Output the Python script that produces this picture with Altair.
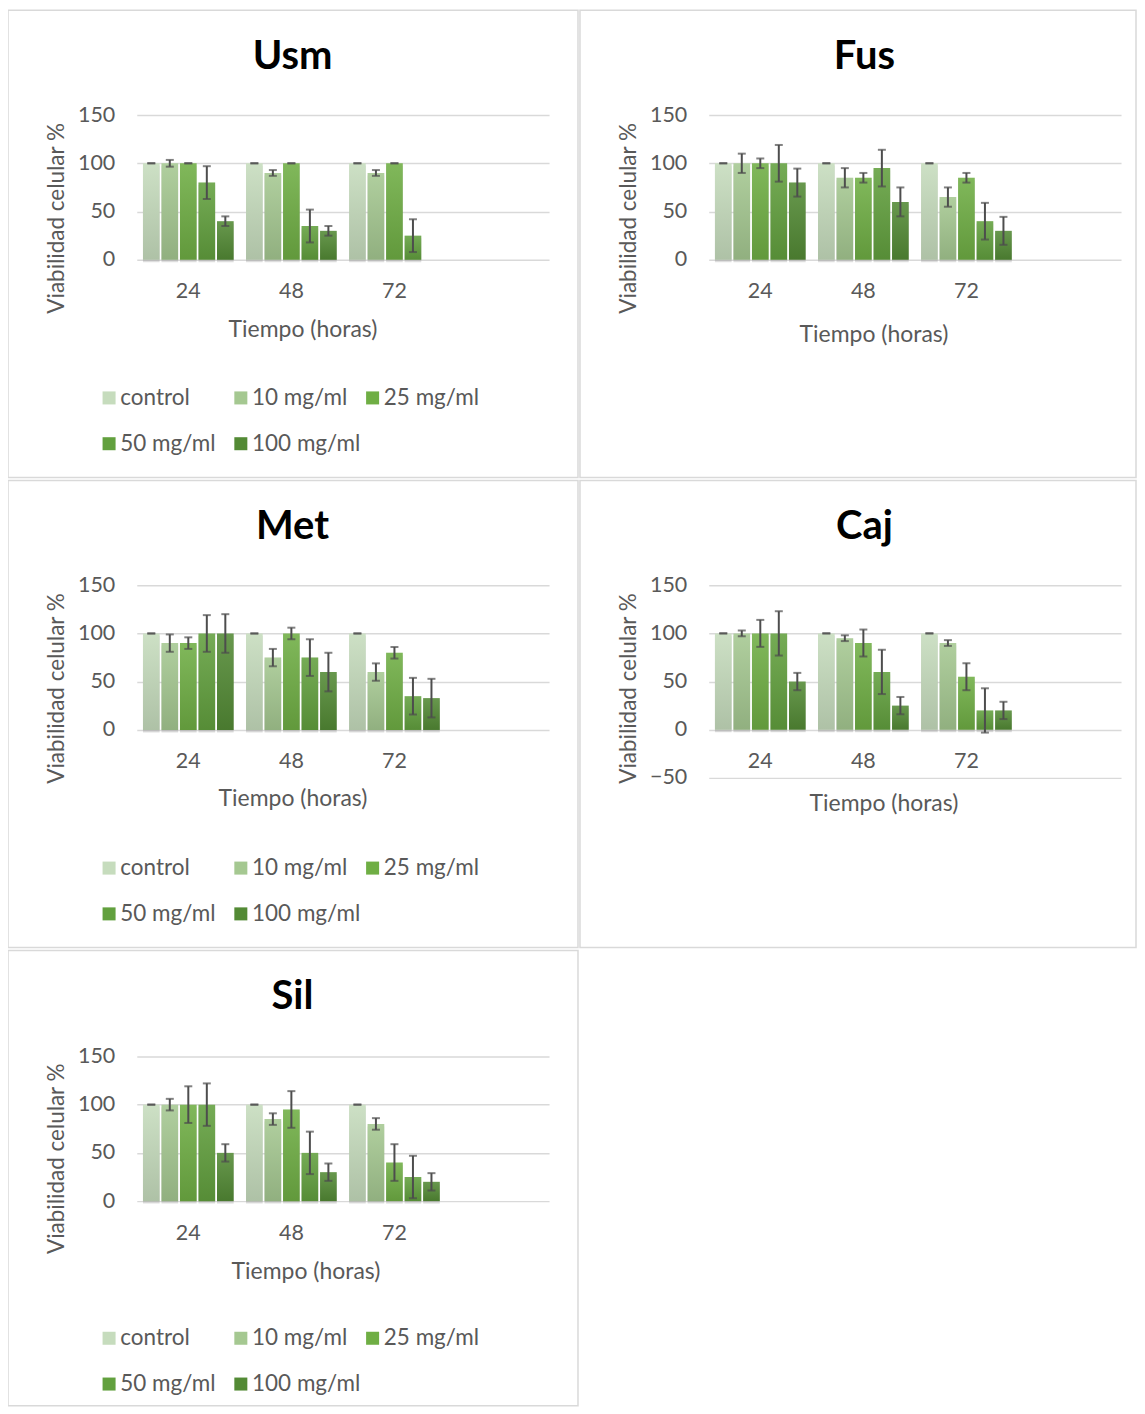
import altair as alt
import pandas as pd

FONT = "Lato"
concs = ["control", "10 mg/ml", "25 mg/ml", "50 mg/ml", "100 mg/ml"]
times = ["24", "48", "72"]
x_domain = ["24", "48", "72", ""]
colors = ["#c6dcbd", "#a5c891", "#6fae44", "#62a03e", "#538a35"]

# values listed time-major: 24h (5 conc), 48h (5 conc), 72h (5 conc)
usm_mean = [100, 100, 100, 80, 40, 100, 90, 100, 35, 30, 100, 90, 100, 25, None]
usm_err = [0, 3.5, 0, 17, 5, 0, 3, 0, 17, 5, 0, 3, 0, 17, None]
fus_mean = [100, 100, 100, 100, 80, 100, 85, 85, 95, 60, 100, 65, 85, 40, 30]
fus_err = [0, 10, 5, 19, 14.5, 0, 10, 5, 19, 15, 0, 10, 5, 19, 14.5]
met_mean = [100, 90, 90, 100, 100, 100, 75, 100, 75, 60, 100, 60, 80, 35, 33]
met_err = [0, 9, 6, 19, 20, 0, 9, 6, 19, 20, 0, 9, 6, 19, 20]
caj_mean = [100, 100, 100, 100, 50, 100, 95, 90, 60, 25, 100, 90, 55, 20, 20]
caj_err = [0, 3, 14, 23, 9, 0, 3, 14, 23, 9, 0, 3, 14, 23, 9]
sil_mean = [100, 100, 100, 100, 50, 100, 85, 95, 50, 30, 100, 80, 40, 25, 20]
sil_err = [0, 6, 19, 22, 9, 0, 6, 19, 22, 9, 0, 6, 19, 22, 9]

GRAY = "#595959"
ERR = "#4d4d4d"


def make_df(mean, err):
    rows = []
    i = 0
    for t in times:
        for c in concs:
            m, e = mean[i], err[i]
            i += 1
            if m is None:
                continue
            rows.append({"time": t, "conc": c, "mean": m, "lo": m - e, "hi": m + e})
    return pd.DataFrame(rows)


def panel(name, mean, err, ydom, yticks, yrange, zero_px, xtitle, w=571, h=468):
    df = make_df(mean, err)
    base = alt.Chart(df)
    xenc = alt.X(
        "time:N",
        scale=alt.Scale(domain=x_domain, range=[129, 542], paddingInner=0.12, paddingOuter=0.06),
        axis=alt.Axis(
            title="Tiempo (horas)", titleFont=FONT, titleFontSize=23, titleFontWeight="normal",
            titleColor=GRAY, titleX=xtitle[0], titleY=xtitle[1], titleBaseline="middle",
            labelFont=FONT, labelFontSize=21.5, labelColor=GRAY, labelAngle=0, labelPadding=21,
            ticks=False, domain=False, grid=False, offset=-(h - zero_px),
        ),
    )
    xo = alt.XOffset("conc:N", scale=alt.Scale(domain=concs, paddingInner=0.1, paddingOuter=0))

    def yenc(field):
        return alt.Y(
            field,
            scale=alt.Scale(domain=ydom, range=yrange, nice=False, zero=False),
            axis=alt.Axis(
                title="Viabilidad celular %", titleFont=FONT, titleFontSize=22.5,
                titleFontWeight="normal", titleColor=GRAY, titleX=49 - 129, titleY=208,
                titleBaseline="middle", titleAngle=-90,
                values=yticks, labelFont=FONT, labelFontSize=21.5, labelColor=GRAY,
                labelPadding=22, ticks=False, domain=False, grid=True,
                gridColor="#d9d9d9", gridWidth=1.5, offset=-129,
            ),
        )

    shadow = base.mark_bar(color="#000000", opacity=0.13, xOffset=2.5, yOffset=2.5).encode(
        x=xenc, xOffset=xo, y=yenc("mean:Q")
    )
    bars = base.mark_bar().encode(
        x=xenc, xOffset=xo, y=yenc("mean:Q"),
        color=alt.Color(
            "conc:N", scale=alt.Scale(domain=concs, range=colors),
            legend=alt.Legend(
                orient="none", legendX=90, legendY=377, direction="horizontal", columns=3,
                title=None, labelFont=FONT, labelFontSize=22.5, labelColor=GRAY,
                symbolType="square", symbolSize=170, symbolStrokeWidth=0,
                rowPadding=23, columnPadding=1, gridAlign="all", labelOffset=0,
            ),
        ),
    )
    shade = base.mark_bar(
        color={
            "gradient": "linear", "x1": 0, "x2": 0, "y1": 0, "y2": 1,
            "stops": [
                {"offset": 0, "color": "rgba(255,255,255,0.12)"},
                {"offset": 1, "color": "rgba(0,0,0,0.12)"},
            ],
        }
    ).encode(x=xenc, xOffset=xo, y=yenc("mean:Q"))
    rule = base.mark_rule(color=ERR, strokeWidth=2).encode(
        x=xenc, xOffset=xo, y=yenc("lo:Q"), y2=alt.Y2("hi:Q")
    )
    cap_lo = base.mark_tick(color=ERR, thickness=2, size=8).encode(x=xenc, xOffset=xo, y=yenc("lo:Q"))
    cap_hi = base.mark_tick(color=ERR, thickness=2, size=8).encode(x=xenc, xOffset=xo, y=yenc("hi:Q"))
    title = alt.Chart(pd.DataFrame({"t": [name]})).mark_text(
        font=FONT, fontSize=40, fontWeight="bold", color="#000000", baseline="middle"
    ).encode(text="t:N", x=alt.value(285), y=alt.value(47))

    return alt.layer(shadow, bars, shade, rule, cap_lo, cap_hi, title).properties(width=w, height=h)


usm = panel("Usm", usm_mean, usm_err, [0, 150], [0, 50, 100, 150], [250, 105], 250, (295, 70))
fus = panel("Fus", fus_mean, fus_err, [0, 150], [0, 50, 100, 150], [250, 105], 250, (294, 75), w=557)
met = panel("Met", met_mean, met_err, [0, 150], [0, 50, 100, 150], [250, 105], 250, (285, 69))
caj = panel("Caj", caj_mean, caj_err, [-50, 150], [-50, 0, 50, 100, 150], [298, 105], 250, (304, 74), w=557)
sil = panel("Sil", sil_mean, sil_err, [0, 150], [0, 50, 100, 150], [251, 106], 251, (298, 71), h=456)

row1 = alt.hconcat(usm, fus, spacing=0)
row2 = alt.hconcat(met, caj, spacing=0)
chart = alt.vconcat(row1, row2, sil, spacing=1).resolve_scale(
    x="independent", y="independent", color="independent", xOffset="independent"
).properties(padding={"top": 0, "left": -1, "right": 0, "bottom": 0}).configure_view(
    stroke="#d9d9d9", strokeWidth=1.5
)

chart.save("out.html", embed_options={"renderer": "svg", "actions": False})
